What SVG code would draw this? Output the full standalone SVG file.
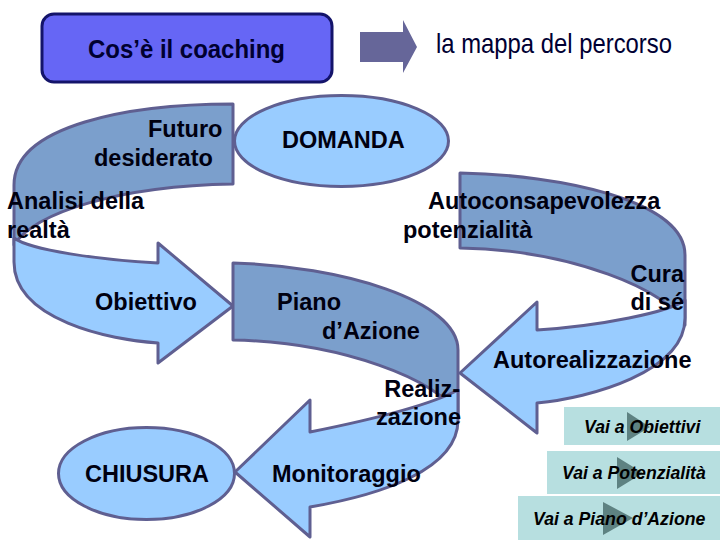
<svg xmlns="http://www.w3.org/2000/svg" width="720" height="540" viewBox="0 0 720 540">
<style>
.dark{fill:#7b9fcc;stroke:#5f5f91;stroke-width:3;stroke-linejoin:round}
.light{fill:#99ccff;stroke:#5f5f91;stroke-width:3;stroke-linejoin:round}
.lbl{font-family:"Liberation Sans",Arial,sans-serif;font-weight:bold;font-size:23.5px;fill:#000010}
.btn rect{fill:#b7dfe0}
.btn polygon{fill:#5e8282}
.btn text{font-family:"Liberation Sans",Arial,sans-serif;font-weight:bold;font-style:italic;font-size:17.7px;fill:#000}
</style>
<rect width="720" height="540" fill="#ffffff"/>

<g id="titolo">
<rect x="42" y="14" width="290" height="68" rx="12" fill="#6666f5" stroke="#14146a" stroke-width="3"/>
<text x="88" y="58" font-family="'Liberation Sans',Arial,sans-serif" font-weight="bold" font-size="25" fill="#000030" textLength="197" lengthAdjust="spacingAndGlyphs">Cos’è il coaching</text>
</g>

<g id="connectors">
<polygon points="360,32 403,32 403,20 417,47 403,73 403,62 360,62" fill="#666699"/>
</g>

<g id="mappa">
<text x="436" y="53" font-family="'Liberation Sans',Arial,sans-serif" font-size="28" fill="#000033" textLength="236" lengthAdjust="spacingAndGlyphs">la mappa del percorso</text>
</g>

<g id="uturn-obiettivo">
<path class="dark" d="M233,104 C130,104 14,125 14,185 L14,245 C35,212 120,186 233,184 Z"/>
<path class="light" d="M158,263 L158,243 L233,306 L158,363 L158,343 C110,340 14,320 14,262 L14,238 C30,250 100,260 158,263 Z"/>
<text class="lbl" x="148" y="137">Futuro</text>
<text class="lbl" x="94" y="166">desiderato</text>
<text class="lbl" x="7" y="209">Analisi della</text>
<text class="lbl" x="7" y="238">realtà</text>
<text class="lbl" x="95" y="310">Obiettivo</text>
</g>

<g id="domanda">
<ellipse cx="341.5" cy="141" rx="107" ry="45.5" class="light"/>
<text class="lbl" x="282" y="148">DOMANDA</text>
</g>

<g id="uturn-autorealizzazione">
<path class="dark" d="M460,173 C560,175 685,200 685,255 L685,325 C670,290 570,250 460,248 Z"/>
<path class="light" d="M537,330 L537,302 L460,373 L537,433 L537,403 C590,398 685,372 685,318 L685,300 C670,312 600,326 537,330 Z"/>
<text class="lbl" x="428" y="209">Autoconsapevolezza</text>
<text class="lbl" x="403" y="238">potenzialità</text>
<text class="lbl" x="684" y="282" text-anchor="end">Cura</text>
<text class="lbl" x="684" y="310" text-anchor="end">di sé</text>
<text class="lbl" x="493" y="368">Autorealizzazione</text>
</g>

<g id="uturn-piano">
<path class="dark" d="M233,263 C340,266 458,300 458,350 L458,415 C440,380 340,342 233,340 Z"/>
<path class="light" d="M310,432 L310,400 L235,472 L310,537 L310,507 C380,495 458,470 458,420 L458,390 C430,405 370,420 310,432 Z"/>
<text class="lbl" x="277" y="310">Piano</text>
<text class="lbl" x="322" y="339">d’Azione</text>
<text class="lbl" x="460" y="397" text-anchor="end">Realiz-</text>
<text class="lbl" x="461" y="425" text-anchor="end">zazione</text>
<text class="lbl" x="272" y="482">Monitoraggio</text>
</g>

<g id="chiusura">
<ellipse cx="146.5" cy="473.5" rx="88" ry="46" class="light"/>
<text class="lbl" x="85" y="482">CHIUSURA</text>
</g>

<g id="btn-obiettivi" class="btn">
<rect x="564" y="407" width="156" height="38"/>
<polygon points="627,412 650,427 627,441"/>
<text x="584" y="433">Vai a Obiettivi</text>
</g>
<g id="btn-potenzialita" class="btn">
<rect x="547" y="451" width="173" height="43"/>
<polygon points="617,457 643,473 617,489"/>
<text x="562" y="479">Vai a Potenzialità</text>
</g>
<g id="btn-piano" class="btn">
<rect x="518" y="496" width="202" height="44"/>
<polygon points="603,502 633,518 603,535"/>
<text x="533" y="525">Vai a Piano d’Azione</text>
</g>
</svg>
